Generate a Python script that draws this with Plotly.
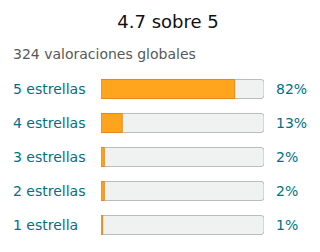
import plotly.graph_objects as go

categories = ["5 estrellas", "4 estrellas", "3 estrellas", "2 estrellas", "1 estrella"]
percentages = [82, 13, 2, 2, 1]
title_text = "4.7 sobre 5"
subtitle_text = "324 valoraciones globales"

W, H = 320, 252
ML, MR, MT, MB = 101, 56, 72, 10
PW = W - ML - MR
PH = H - MT - MB

def px_to_paper_x(px):
    return (px - ML) / PW

def px_to_paper_y(py):
    return (H - MB - py) / PH

teal = "#007185"
fig = go.Figure()
fig.add_trace(go.Bar(
    y=categories, x=[100] * len(categories), orientation="h",
    marker=dict(color="#f0f2f2", line=dict(color="#b8bcbc", width=1), cornerradius=3),
    width=0.56, hoverinfo="skip", showlegend=False,
))
fig.add_trace(go.Bar(
    y=categories, x=percentages, orientation="h",
    marker=dict(color="#ffa41c", line=dict(color="#e3891c", width=1), cornerradius=3),
    width=0.56, hoverinfo="skip", showlegend=False,
))

annotations = []
for c, p in zip(categories, percentages):
    annotations.append(dict(
        x=px_to_paper_x(13), xref="paper", y=c, yref="y", text=c,
        xanchor="left", yanchor="middle", showarrow=False, borderpad=0, borderwidth=0,
        font=dict(family="DejaVu Sans", size=14, color=teal),
    ))
    annotations.append(dict(
        x=px_to_paper_x(276), xref="paper", y=c, yref="y", text=f"{p}%",
        xanchor="left", yanchor="middle", showarrow=False, borderpad=0, borderwidth=0,
        font=dict(family="DejaVu Sans", size=14, color=teal),
    ))
annotations.append(dict(
    x=px_to_paper_x(13), xref="paper", y=px_to_paper_y(54), yref="paper",
    text=subtitle_text, xanchor="left", yanchor="middle", showarrow=False,
    borderpad=0, borderwidth=0,
    font=dict(family="DejaVu Sans", size=14, color="#565959"),
))

fig.update_layout(
    width=W, height=H,
    margin=dict(l=ML, r=MR, t=MT, b=MB, pad=0),
    paper_bgcolor="white", plot_bgcolor="white",
    barmode="overlay",
    title=dict(text=title_text, x=168 / W, xanchor="center", xref="container",
               y=1 - 22 / H, yanchor="middle", yref="container",
               font=dict(family="DejaVu Sans", size=18, color="#0f1111")),
    xaxis=dict(range=[0, 100], visible=False, fixedrange=True),
    yaxis=dict(autorange="reversed", visible=False, fixedrange=True),
    annotations=annotations,
    showlegend=False,
)

fig.write_html("out.html", config={"displayModeBar": False})
